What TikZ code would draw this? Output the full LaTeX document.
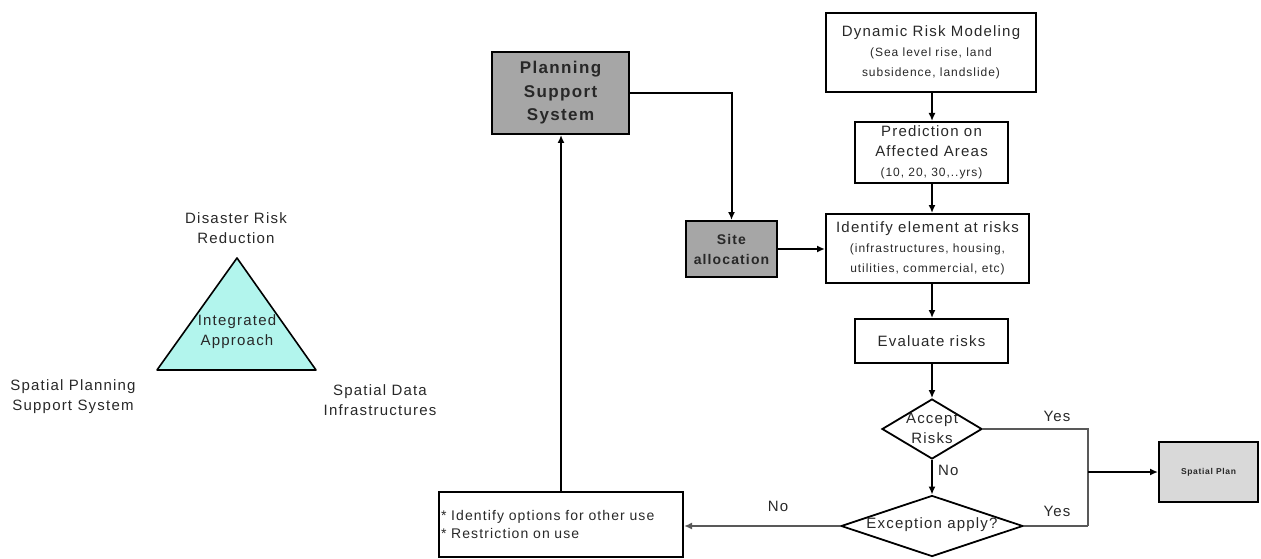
\documentclass[tikz,border=0pt]{standalone}
\usepackage{fontspec}
\setmainfont{Liberation Sans}[LetterSpace=8]
\usetikzlibrary{arrows.meta,shapes.geometric}
\definecolor{tri}{RGB}{178,245,237}
\definecolor{boxgray}{RGB}{166,166,166}
\definecolor{lightbox}{RGB}{217,217,217}
\definecolor{txt}{RGB}{40,40,40}
\newcommand\fa{\fontsize{15}{20}\selectfont}
\newcommand\fsub{\fontsize{12}{19}\selectfont}
\tikzset{
  box/.style={draw=black, line width=2pt, rectangle, inner sep=0pt, align=center, text=txt, font=\fa},
  dia/.style={draw=black, line width=1.8pt, diamond, inner sep=0pt},
  conn/.style={line width=2pt, draw=black},
  arr/.style={conn, -{Latex[length=8pt,width=7pt]}},
  gconn/.style={line width=2.6pt, draw=black!65},
  garr/.style={gconn, -{Latex[length=8pt,width=7pt]}, color=black!65},
  lbl/.style={text=txt, font=\fa, align=center, inner sep=0pt},
}
\begin{document}
\begin{tikzpicture}[x=1pt,y=-1pt]
\useasboundingbox (0,0) rectangle (1261,559);
% triangle
\coordinate (ta) at (237,258);
\coordinate (tl) at (157,370);
\coordinate (tr) at (316,370);
\filldraw[fill=tri, draw=black, line width=1.6pt, line join=round] (ta) -- (tl) -- (tr) -- cycle;
\node[lbl] (tint) at (237,332) {Integrated\\Approach};
\node[lbl] (tdrr) at (236,228) {Disaster Risk\\Reduction};
\node[lbl] (tsp) at (73,397) {Spatial Planning\\Support System};
\node[lbl] (tsd) at (380,400) {Spatial Data\\Infrastructures};
% boxes
\node[box, fill=boxgray, minimum width=137pt, minimum height=82pt, font=\fontsize{17}{23.5}\selectfont\bfseries] (pss) at (560.5,93) {Planning\\Support\\System};
\node[box, fill=boxgray, minimum width=91pt, minimum height=56pt, font=\fontsize{14}{20}\selectfont\bfseries] (site) at (731.5,249) {Site\\allocation};
\node[box, minimum width=210pt, minimum height=79pt] (drm) at (931,52.5) {Dynamic Risk Modeling\\{\fsub (Sea level rise, land}\\{\fsub subsidence, landslide)}};
\node[box, minimum width=153pt, minimum height=61pt] (pred) at (931.5,152.5) {Prediction on\\Affected Areas\\{\fsub (10, 20, 30,..yrs)}};
\node[box, minimum width=203pt, minimum height=69pt] (ident) at (927.5,248.5) {Identify element at risks\\{\fsub (infrastructures, housing,}\\{\fsub utilities, commercial, etc)}};
\node[box, minimum width=153pt, minimum height=44pt] (eval) at (931.5,341) {Evaluate risks};
\node[dia, minimum width=100pt, minimum height=60pt] (acc) at (932,429) {};
\node[lbl] (acct) at (932,428) {Accept\\Risks};
\node[dia, minimum width=182pt, minimum height=61pt] (exc) at (932,526) {};
\node[lbl] (exct) at (932,525) {Exception apply?};
\node[box, fill=lightbox, minimum width=99pt, minimum height=60pt, font=\fontsize{8.5}{10}\selectfont\bfseries] (sp) at (1208.5,472) {Spatial Plan};
\node[box, minimum width=244pt, minimum height=65pt, align=left, text width=240pt, font=\fontsize{14}{18}\selectfont] (opt) at (561,524.5) {{*} Identify options for other use\\{*} Restriction on use};
% connectors
\draw[arr] (pss.east) -| (site.north);
\draw[arr] (site.east) -- (site.east -| ident.west);
\draw[arr] (drm.south -| acc.north) -- (pred.north -| acc.north);
\draw[arr] (pred.south -| acc.north) -- (ident.north -| acc.north);
\draw[arr] (ident.south -| acc.north) -- (eval.north -| acc.north);
\draw[arr] (eval.south -| acc.north) -- (acc.north);
\draw[arr] (acc.south) -- (exc.north);
\coordinate (j1) at (1088,429);
\coordinate (j2) at (1088,526);
\coordinate (jm) at (1088,472);
\draw[gconn] (acc.east) -- (j1) -- (j2);
\draw[gconn] (exc.east) -- (j2);
\draw[arr] (jm) -- (sp.west);
\draw[garr] (exc.west) -- (exc.west -| opt.east);
\draw[arr] (opt.north) -- (opt.north |- pss.south);
% labels
\node[lbl] (y1) at (1057,416) {Yes};
\node[lbl] (y2) at (1057,511) {Yes};
\node[lbl, anchor=west] (n1) at (938,470) {No};
\node[lbl] (n2) at (778,506) {No};
\end{tikzpicture}
\end{document}
